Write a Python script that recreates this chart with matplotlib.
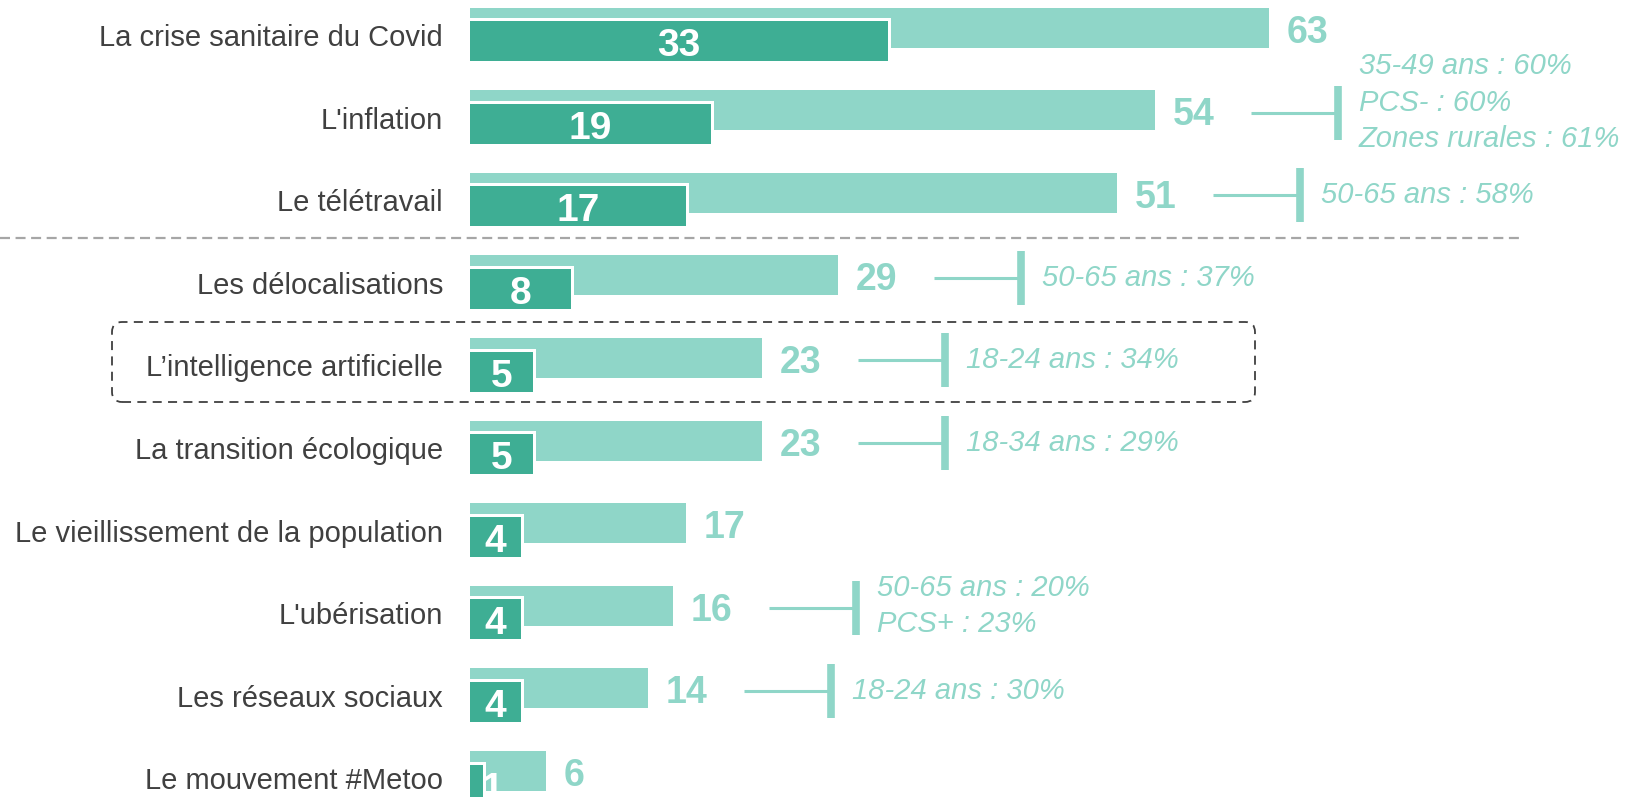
import matplotlib
matplotlib.use("Agg")
import matplotlib.pyplot as plt
from matplotlib.patches import FancyBboxPatch
from matplotlib.transforms import IdentityTransform, blended_transform_factory

# Données
categories = [
    "La crise sanitaire du Covid",
    "L'inflation",
    "Le télétravail",
    "Les délocalisations",
    "L\u2019intelligence artificielle",
    "La transition écologique",
    "Le vieillissement de la population",
    "L'ubérisation",
    "Les réseaux sociaux",
    "Le mouvement #Metoo",
]
total = [63, 54, 51, 29, 23, 23, 17, 16, 14, 6]
premier = [33, 19, 17, 8, 5, 5, 4, 4, 4, 1]
notes = {
    1: ["35-49 ans : 60%", "PCS- : 60%", "Zones rurales : 61%"],
    2: ["50-65 ans : 58%"],
    3: ["50-65 ans : 37%"],
    4: ["18-24 ans : 34%"],
    5: ["18-34 ans : 29%"],
    7: ["50-65 ans : 20%", "PCS+ : 23%"],
    8: ["18-24 ans : 30%"],
}

LIGHT = "#8FD6C8"
DARK = "#3EAE94"
GREY_TXT = "#404040"

plt.rcParams["font.family"] = ["Liberation Sans", "DejaVu Sans"]

W, H = 1629, 797
fig = plt.figure(figsize=(W / 100, H / 100), dpi=100)
x0 = 470
px_unit = 12.68
row = 82.6
ax = fig.add_axes([x0 / W, 0, 1 - x0 / W, 1])
ax.set_xlim(0, (W - x0) / px_unit)
ax.set_ylim((H - 35) / row, -35 / row)
for s in ax.spines.values():
    s.set_visible(False)
ax.set_xticks([])

ys = list(range(len(categories)))
h = 0.485
off_l = -0.09
off_d = 0.075
bx = 3 / px_unit
by = 3 / row
neg = 1.0  # les barres partent un peu à gauche de l'axe (coupées)

# Barres
ax.barh([y + off_l for y in ys], [v + neg for v in total], left=-neg,
        height=h, color=LIGHT, zorder=1)
ax.barh([y + off_d - by / 2 for y in ys], [v + bx + neg for v in premier],
        left=-neg, height=h + by, color="white", zorder=2)
ax.barh([y + off_d for y in ys], [v + neg for v in premier], left=-neg,
        height=h, color=DARK, zorder=3)

# Etiquettes de valeurs
for y, v in zip(ys, total):
    ax.text(v + 1.4, y + off_l + 0.06, str(v), color=LIGHT, fontsize=27,
            fontweight="bold", va="center", ha="left")
for y, v in zip(ys, premier):
    ax.text(max(v / 2, 1.75), y + off_d + 0.06, str(v), color="white",
            fontsize=28, fontweight="bold", va="center", ha="center",
            zorder=4, clip_on=True)

# Libellés
ax.set_yticks(ys)
ax.set_yticklabels(categories, fontsize=21, color=GREY_TXT)
ax.tick_params(axis="y", length=0, pad=19.5)

# Annotations
for i, lines in notes.items():
    v = total[i]
    ya = i - 0.06
    xs = v + 7.6
    xe = xs + 6.7
    ax.plot([xs, xe], [ya, ya], color=LIGHT, lw=2.2, solid_capstyle="butt")
    ax.plot([xe + 0.15, xe + 0.15], [ya - 0.327, ya + 0.327], color=LIGHT,
            lw=5.5, solid_capstyle="butt")
    ax.text(xe + 1.8, ya - 0.03 * (len(lines) - 1) ** 2, "\n".join(lines),
            color=LIGHT, fontsize=21, fontstyle="italic", va="center",
            ha="left", linespacing=1.38)

# Séparateur
tr = blended_transform_factory(fig.transFigure, ax.transData)
ax.plot([0, 1523 / W], [2.46, 2.46], transform=tr, color="#A6A6A6", lw=1.6,
        dashes=(4.5, 2.5), clip_on=False)

# Encadré
box = FancyBboxPatch((112, H - 402), 1255 - 112, 80,
                     boxstyle="round,pad=0,rounding_size=10",
                     transform=IdentityTransform(), fill=False,
                     edgecolor=GREY_TXT, lw=1.3, linestyle=(0, (5, 3.5)))
fig.patches.append(box)

fig.savefig("out.png", dpi=100)
